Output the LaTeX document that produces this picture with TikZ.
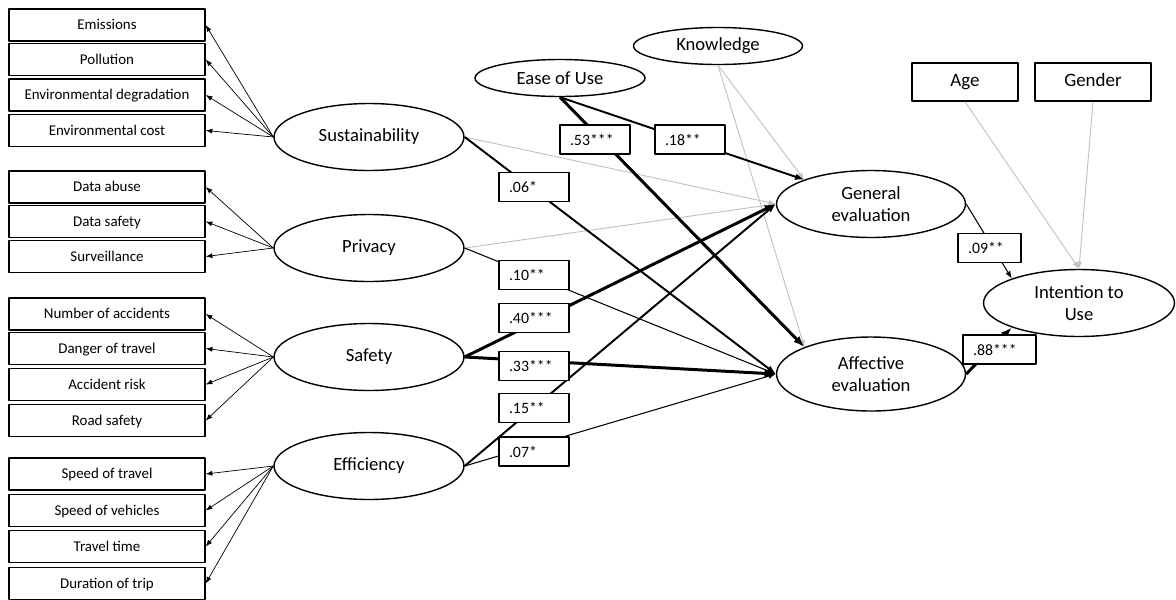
\documentclass[tikz,border=0pt]{standalone}
\usepackage{fontspec}
\setmainfont{Carlito}
\usepackage{tikz}
\usetikzlibrary{arrows.meta,shapes.geometric}
\tikzset{>={Latex[length=3pt 2]}}
\colorlet{mygray}{black!25}

\begin{document}
\begin{tikzpicture}[x=0.02cm, y=-0.02cm, line join=round,
                    item/.style={draw, line width=0.8pt, inner sep=0pt,
                                 minimum width=3.92cm, minimum height=0.64cm,
                                 text height=1.5ex, text depth=0.4ex,
                                 font=\fontsize{8.5}{9.5}\selectfont},
                    latent/.style={draw, ellipse, line width=0.8pt, inner sep=0pt, align=center,
                                   minimum width=3.8cm, minimum height=1.34cm,
                                   font=\fontsize{10.6}{12.5}\selectfont},
                    coef/.style={draw, fill=white, line width=0.8pt, inner sep=0pt,
                                 minimum width=#1, minimum height=0.58cm,
                                 font=\fontsize{9}{10}\selectfont},
                    coef/.default=1.4cm,
                    load/.style={->, line width=0.4pt},
                    ctrl/.style={->, mygray, line width=0.5pt},
                    weak/.style={->, line width=0.6pt},
                    mid/.style={->, line width=1.1pt},
                    strong/.style={->, line width=1.7pt}]
  \useasboundingbox (0,0) rectangle (1176,599);
  \def\cf#1#2{\makebox[#1][l]{\hspace{0.2cm}#2}} % texto do coeficiente alinhado a esquerda

% indicadores (caixas da esquerda)
  \foreach \nm/\txt/\yy in {em/Emissions/25, pol/Pollution/59.5,
                            deg/Environmental degradation/95, cost/Environmental cost/130.5,
                            abuse/Data abuse/187, dsafe/Data safety/221.5, surv/Surveillance/256.5,
                            nacc/Number of accidents/314, dang/Danger of travel/348.5,
                            risk/Accident risk/384.5, road/Road safety/420.5,
                            spt/Speed of travel/474, spv/Speed of vehicles/510.5,
                            ttime/Travel time/546.5, dur/Duration of trip/583.5}
    \node[item] (\nm) at (107,\yy) {\txt};

% variaveis latentes
  \node[latent] (sust) at (369,137) {Sustainability};
  \node[latent] (priv) at (369,248) {Privacy};
  \node[latent] (safe) at (369,357) {Safety};
  \node[latent] (eff)  at (369,466) {Efficiency};
  \node[latent, minimum width=3.4cm, minimum height=0.74cm]  (ease) at (560,78) {Ease of Use};
  \node[latent, minimum width=3.38cm, minimum height=0.74cm] (know) at (718,46) {Knowledge};
  \node[latent, minimum width=3.78cm, minimum height=1.34cm] (gen)  at (871,204) {General\\evaluation};
  \node[latent, minimum width=3.78cm, minimum height=1.48cm] (aff)  at (871,374) {Affective\\evaluation};
  \node[latent, minimum width=3.82cm, minimum height=1.34cm] (int)  at (1079,303) {Intention to\\Use};
  \node[item, minimum width=2.12cm, minimum height=0.76cm, font=\fontsize{10.8}{12}\selectfont] (age)    at (965,82) {Age};
  \node[item, minimum width=2.32cm, minimum height=0.76cm, font=\fontsize{10.8}{12}\selectfont] (gender) at (1093,82) {Gender};

% cargas fatoriais
  \foreach \t in {em,pol,deg,cost}        \draw[load] (sust.west) -- (\t.east);
  \foreach \t in {abuse,dsafe,surv}       \draw[load] (priv.west) -- (\t.east);
  \foreach \t in {nacc,dang,risk,road}    \draw[load] (safe.west) -- (\t.east);
  \foreach \t in {spt,spv,ttime,dur}      \draw[load] (eff.west)  -- (\t.east);

% caminhos nao significativos / controles (cinza)
  \draw[ctrl] (sust.east) -- (gen.west);
  \draw[ctrl] (priv.east) -- (gen.west);
  \draw[ctrl] (know.south) -- (gen.160);
  \draw[ctrl] (know.south) -- (aff.158);
  \draw[ctrl] (age.south) -- (int.north);
  \draw[ctrl] (gender.south) -- (int.north);

% caminhos estruturais
  \draw[mid]    (sust.east) -- (aff.west);
  \draw[weak]   (priv.east) -- (aff.west);
  \draw[strong] (safe.east) -- (gen.west);
  \draw[strong] (safe.east) -- (aff.west);
  \draw[mid]    (eff.east)  -- (gen.west);
  \draw[weak]   (eff.east)  -- (aff.west);
  \draw[mid]    (ease.south) -- (gen.160);
  \draw[strong] (ease.south) -- (aff.158);
  \draw[weak]   (gen.east) -- (int.160);
  \draw[strong] (aff.east) -- (int.200);

% coeficientes
  \node[coef] (c53) at (595,139.5) {\cf{1.4cm}{.53***}};
  \node[coef] (c18) at (690,139.5) {\cf{1.4cm}{.18**}};
  \node[coef] (c06) at (534,187)   {\cf{1.4cm}{.06*}};
  \node[coef] (c10) at (534,275)   {\cf{1.4cm}{.10**}};
  \node[coef] (c40) at (534,318)   {\cf{1.4cm}{.40***}};
  \node[coef] (c33) at (534,366)   {\cf{1.4cm}{.33***}};
  \node[coef] (c15) at (534,408)   {\cf{1.4cm}{.15**}};
  \node[coef] (c07) at (534,451.5) {\cf{1.4cm}{.07*}};
  \node[coef=1.26cm] (c09) at (989.5,248)  {\cf{1.26cm}{.09**}};
  \node[coef=1.46cm] (c88) at (999.5,349.5) {\cf{1.46cm}{.88***}};
\end{tikzpicture}
\end{document}
